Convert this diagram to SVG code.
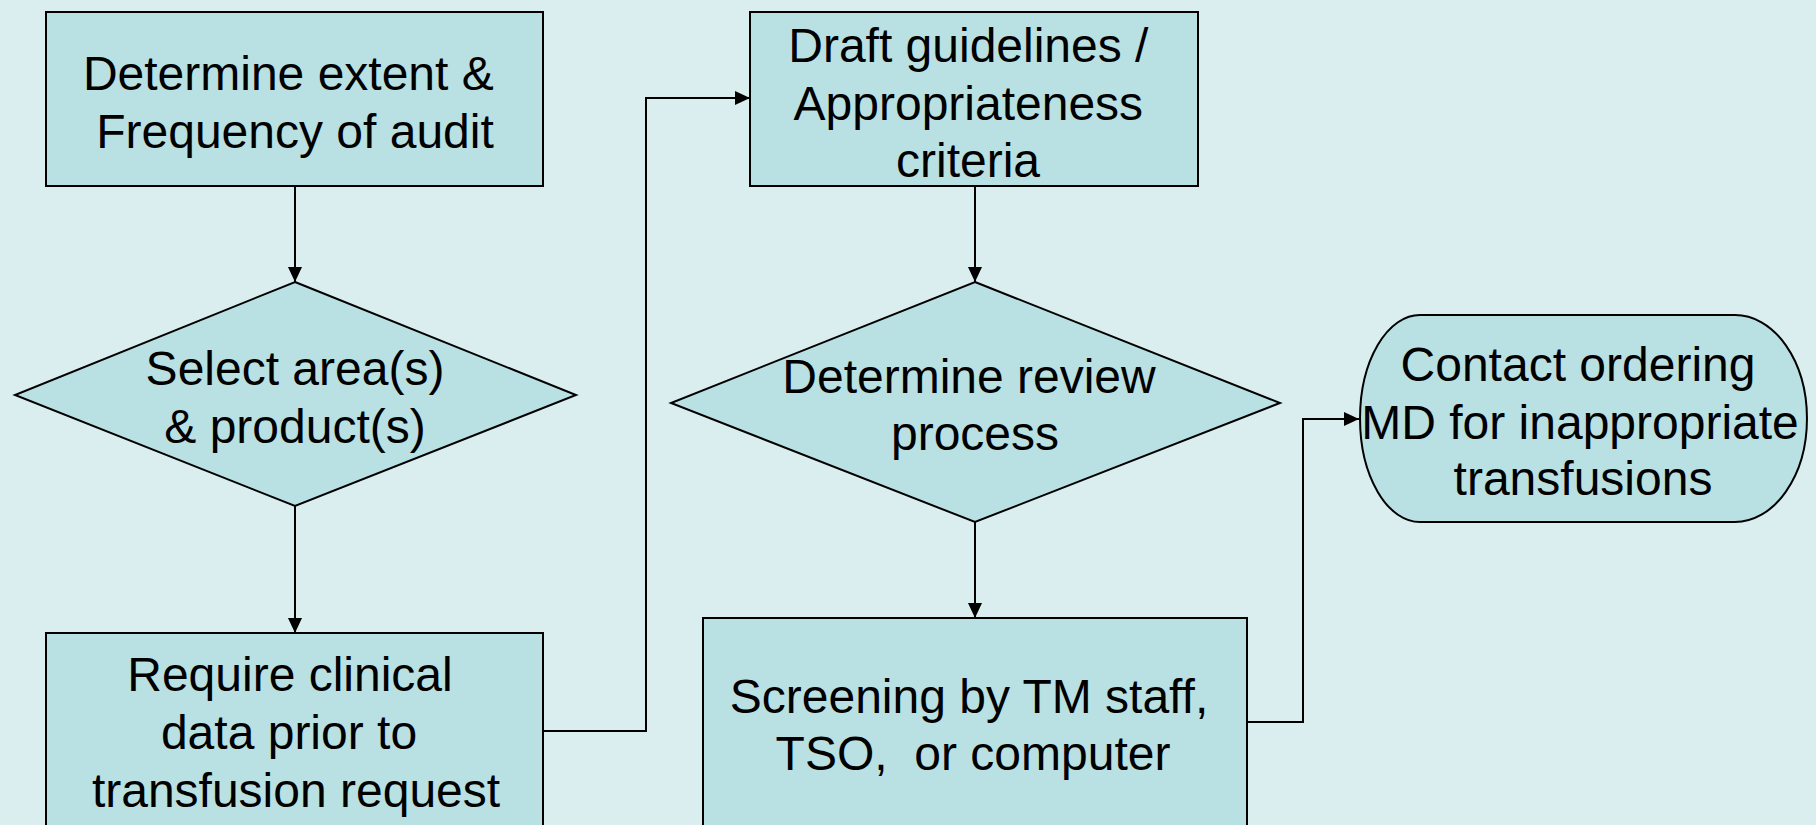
<svg xmlns="http://www.w3.org/2000/svg" width="1816" height="825" viewBox="0 0 1816 825">
  <defs>
    <marker id="arrow" viewBox="0 0 15 14" refX="15" refY="7" markerWidth="15" markerHeight="14" markerUnits="userSpaceOnUse" orient="auto">
      <path d="M0,0 L15,7 L0,14 Z" fill="#000"/>
    </marker>
    <style>
      .shape { fill: #b9e0e3; stroke: #000; stroke-width: 2; }
      .label { font-family: "Liberation Sans", Arial, sans-serif; font-size: 48px; fill: #000; text-anchor: middle; white-space: pre; }
      .link { fill: none; stroke: #000; stroke-width: 2; marker-end: url(#arrow); }
    </style>
  </defs>

  <rect width="1816" height="825" fill="#daedef"/>

  <g id="connectors">
    <line class="link" x1="295" y1="186" x2="295" y2="282"/>
    <line class="link" x1="295" y1="506" x2="295" y2="633"/>
    <polyline class="link" points="543,731 646,731 646,98 750,98"/>
    <line class="link" x1="975" y1="186" x2="975" y2="282"/>
    <line class="link" x1="975" y1="522" x2="975" y2="618"/>
    <polyline class="link" points="1247,722 1303,722 1303,419 1359,419"/>
  </g>

  <g id="audit-scope">
    <rect class="shape" x="46" y="12" width="497" height="174"/>
    <text class="label" x="295" y="90">Determine extent &amp; </text>
    <text class="label" x="295" y="148">Frequency of audit</text>
  </g>

  <g id="select-area">
    <polygon class="shape" points="295,282 576,395 295,506 15,395"/>
    <text class="label" x="295" y="385">Select area(s)</text>
    <text class="label" x="295" y="443">&amp; product(s)</text>
  </g>

  <g id="clinical-data">
    <rect class="shape" x="46" y="633" width="497" height="200"/>
    <text class="label" x="290" y="691">Require clinical</text>
    <text class="label" x="289" y="749">data prior to</text>
    <text class="label" x="296" y="807">transfusion request</text>
  </g>

  <g id="guidelines">
    <rect class="shape" x="750" y="12" width="448" height="174"/>
    <text class="label" x="975" y="62">Draft guidelines / </text>
    <text class="label" x="975" y="120">Appropriateness </text>
    <text class="label" x="968" y="177">criteria</text>
  </g>

  <g id="review-process">
    <polygon class="shape" points="975,282 1280,403 975,522 671,403"/>
    <text class="label" x="969" y="393">Determine review</text>
    <text class="label" x="975" y="450">process</text>
  </g>

  <g id="screening">
    <rect class="shape" x="703" y="618" width="544" height="215"/>
    <text class="label" x="969" y="713">Screening by TM staff,</text>
    <text class="label" x="973" y="770">TSO,  or computer</text>
  </g>

  <g id="contact-md">
    <path class="shape" d="M1420,315 L1735,315 A72,103.5 0 0 1 1735,522 L1420,522 A60,103.5 0 0 1 1420,315 Z"/>
    <text class="label" x="1578" y="381">Contact ordering</text>
    <text class="label" x="1580" y="439">MD for inappropriate</text>
    <text class="label" x="1583" y="495">transfusions</text>
  </g>
</svg>
